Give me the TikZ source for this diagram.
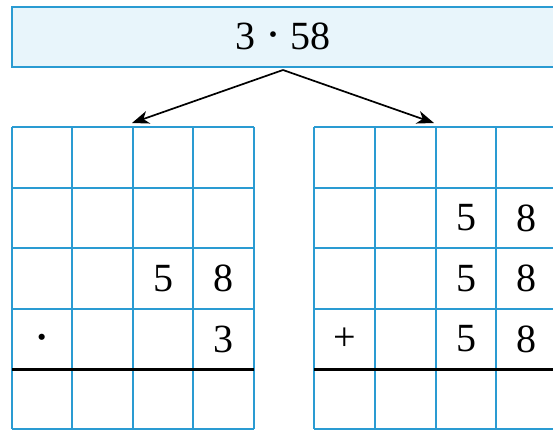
\documentclass[tikz,border=0pt]{standalone}
\usepackage{fontspec}
\setmainfont{Liberation Serif}
\usetikzlibrary{arrows.meta}
\definecolor{gridblue}{HTML}{2A9BD2}
\definecolor{boxfill}{HTML}{E8F5FB}
\tikzset{
  gridline/.style={draw=gridblue, line width=2pt},
  sumline/.style={draw=black, line width=3pt},
  digit/.style={inner sep=0pt, font=\fontsize{40}{44}\selectfont},
  exprbox/.style={draw=gridblue, fill=boxfill, line width=2pt, inner sep=0pt,
    minimum width=548pt, minimum height=60pt, font=\fontsize{40}{44}\selectfont},
  splitarrow/.style={draw=black, line width=1.7pt, -{Stealth[length=17pt,width=13pt,inset=5pt]}}
}
\begin{document}
\begin{tikzpicture}[x=1pt,y=-1pt]
\useasboundingbox (0,0) rectangle (553,430);
% top expression box
\node[exprbox] (expr) at (286,37) {\hspace*{-6pt}3 {\fontsize{48}{48}\selectfont\raisebox{-1pt}{·}} 58};
% grids
\foreach \x in {12,72,133,193,254}{\draw[gridline] (\x,127) -- (\x,429);}
\foreach \x in {314,375,436,496,557}{\draw[gridline] (\x,127) -- (\x,429);}
\foreach \y in {127,188,248,309,429}{
  \draw[gridline] (12,\y) -- (254,\y);
  \draw[gridline] (314,\y) -- (557,\y);
}
\draw[sumline] (12,369.5) -- (254,369.5);
\draw[sumline] (314,369.5) -- (557,369.5);
% arrows
\coordinate (src) at (283,70);
\coordinate (ltgt) at (132,123);
\coordinate (rtgt) at (434,123);
\draw[splitarrow] (src) -- (ltgt);
\draw[splitarrow] (src) -- (rtgt);
% left grid: multiplication
\node[digit] (lfive) at (163,278.5) {5};
\node[digit] (leight) at (223.5,278.5) {8};
\node[digit, font=\fontsize{52}{52}\selectfont] (ldot) at (42,344) {·};
\node[digit] (lthree) at (223.5,339) {3};
% right grid: addition
\node[digit] (rfiveA) at (466,218) {5};
\node[digit] (reightA) at (526.5,218) {8};
\node[digit] (rfiveB) at (466,278.5) {5};
\node[digit] (reightB) at (526.5,278.5) {8};
\node[digit] (rplus) at (344.5,339) {+};
\node[digit] (rfiveC) at (466,339) {5};
\node[digit] (reightC) at (526.5,339) {8};
\end{tikzpicture}
\end{document}
